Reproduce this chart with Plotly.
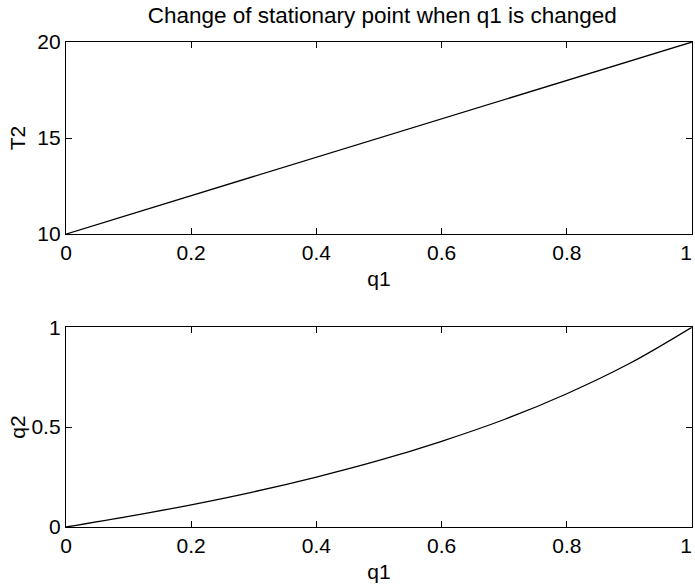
import plotly.graph_objects as go
from plotly.subplots import make_subplots

q1_top = [0.0, 0.1, 0.2, 0.3, 0.4, 0.5, 0.6, 0.7, 0.8, 0.9, 1.0]
T2 = [10.0, 11.0, 12.0, 13.0, 14.0, 15.0, 16.0, 17.0, 18.0, 19.0, 20.0]

q1_bot = [0.0, 0.1, 0.2, 0.3, 0.4, 0.5, 0.6, 0.7, 0.8, 0.9, 1.0]
q2 = [0.0, 0.053, 0.111, 0.176, 0.25, 0.333, 0.429, 0.538, 0.667, 0.818, 1.0]

x_ticks = [0, 0.2, 0.4, 0.6, 0.8, 1]
x_ticklabels = ["0", "0.2", "0.4", "0.6", "0.8", "1\u00a0\u00a0"]
T2_ticks = [10, 15, 20]
q2_ticks = [0, 0.5, 1]
q2_ticklabels = ["0", "0.5", "1"]

FONT = "Liberation Sans, Arial, Helvetica, sans-serif"

fig = make_subplots(rows=2, cols=1, vertical_spacing=0.19)
fig.add_trace(go.Scatter(x=q1_top, y=T2, mode="lines",
                         line=dict(color="black", width=1.3), showlegend=False,
                         hoverinfo="skip"), row=1, col=1)
fig.add_trace(go.Scatter(x=q1_bot, y=q2, mode="lines", line_shape="spline",
                         line=dict(color="black", width=1.3), showlegend=False,
                         hoverinfo="skip"), row=2, col=1)

axis_common = dict(showgrid=False, zeroline=False, showline=True, linecolor="black",
                   linewidth=1.3, mirror="ticks", ticks="inside", ticklen=6,
                   tickcolor="black", tickwidth=1.3, automargin=False,
                   ticklabeloverflow="allow",
                   tickfont=dict(family=FONT, size=21, color="black"))

fig.update_xaxes(**axis_common, range=[0, 1], tickvals=x_ticks, ticktext=x_ticklabels,
                 title=dict(text="q1", font=dict(family=FONT, size=21, color="black"), standoff=7))
fig.update_yaxes(**axis_common)
fig.update_yaxes(range=[10, 20], tickvals=T2_ticks,
                 title=dict(text="T2", font=dict(family=FONT, size=21, color="black"), standoff=5),
                 row=1, col=1)
fig.update_yaxes(range=[0, 1], tickvals=q2_ticks, ticktext=q2_ticklabels,
                 title=dict(text="q2", font=dict(family=FONT, size=21, color="black"), standoff=0),
                 row=2, col=1)

fig.update_layout(
    width=695, height=584,
    margin=dict(l=66, r=3, t=42, b=57),
    paper_bgcolor="white", plot_bgcolor="white",
    title=dict(text="Change of stationary point when q1 is changed",
               font=dict(family=FONT, size=22.5, color="black"),
               x=0.55, xanchor="center", y=0.974, yanchor="middle", automargin=False),
    font=dict(family=FONT, color="black"),
    hovermode=False,
)
fig.layout.yaxis.domain = [0.604, 1.0]
fig.layout.yaxis2.domain = [0.0, 0.412]

fig.write_html("out.html", config={"displayModeBar": False},
               post_script="document.body.style.margin='0px';document.body.style.overflow='hidden';")
